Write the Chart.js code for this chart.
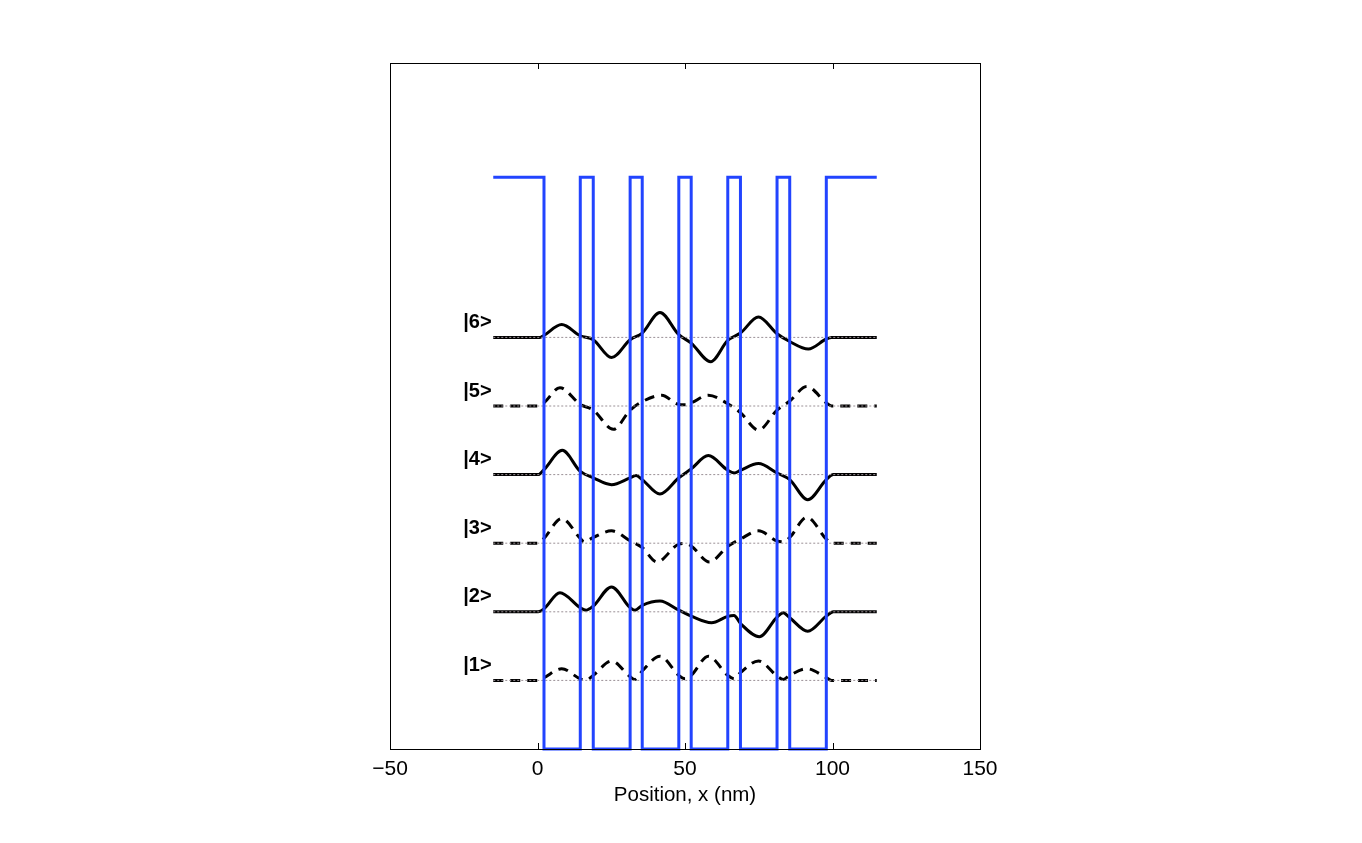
<!DOCTYPE html>
<html>
<head>
<meta charset="utf-8">
<script src="https://cdn.jsdelivr.net/npm/chart.js@4.4.1/dist/chart.umd.min.js"></script>
<style>
  html, body { margin: 0; padding: 0; background: #fff; }
  #wrap { width: 1362px; height: 843px; }
</style>
</head>
<body>
<div id="wrap"><canvas id="wells"></canvas></div>
<script>
// conduction band profile (nm, meV)
var potX = [-15, 2.2, 14.5, 18.9, 31.4, 35.5, 47.9, 52.1, 64.5, 68.8, 81.2, 85.5, 97.9, 115];
var potV = [250, 0, 250, 0, 250, 0, 250, 0, 250, 0, 250, 0, 250, 250];

// energy levels (meV) and their labels
var levels = [30, 60, 90, 120, 150, 180];
var levelNames = ['|1>', '|2>', '|3>', '|4>', '|5>', '|6>'];
var levelX = [-15, 115];

// wavefunctions, [x nm, offset from level]
var psi1 = [[-15,0],[0.2,0],[2.2,1.2],[8.2,5.1],[14.5,0.7],[16.5,0.1],[18.9,2.2],[25.1,8.5],[31.4,1.6],[33.0,0.4],[35.5,4.1],[41.5,10.6],[47.9,2.2],[50.0,0.7],[52.1,2.2],[57.9,10.6],[64.5,2.2],[66.7,0.7],[68.8,3.4],[74.9,8.5],[81.2,1.9],[83.3,0.4],[85.5,2.2],[91.3,5.1],[97.9,1.2],[99.7,0],[115,0]];
var psi2 = [[-15,0],[0.2,0],[2.2,1.3],[7.6,8.3],[14.5,1.8],[16.5,0.7],[18.9,2.5],[25.1,10.9],[31.4,1.8],[33.0,0.7],[35.5,2.8],[41.5,4.7],[47.9,0.7],[52.1,-1.9],[59.0,-4.8],[64.5,-2.0],[66.6,-1.6],[68.8,-5.1],[75.2,-10.9],[81.2,-2.3],[83.3,-0.4],[85.5,-2.6],[91.6,-8.5],[97.9,-1.9],[100.3,0],[115,0]];
var psi3 = [[-15,0],[0.2,0],[2.2,2.1],[8.2,10.8],[14.5,2.1],[15.8,0.6],[18.9,2.5],[25.1,5.4],[31.4,1.0],[35.5,-1.9],[40.5,-8.2],[47.9,-0.4],[50.0,-0.1],[52.1,-1.2],[58.3,-8.2],[64.5,-1.4],[68.8,1.8],[74.9,5.4],[81.2,1.0],[83.3,0.6],[85.5,2.5],[91.3,11.3],[97.9,1.8],[99.7,0],[115,0]];
var psi4 = [[-15,0],[0.2,0],[2.2,2.2],[8.4,10.6],[14.5,1.4],[18.9,-1.4],[25.1,-4.4],[31.4,-1.4],[33.4,-0.4],[35.5,-2.2],[41.5,-8.5],[47.9,-1.4],[52.1,2.5],[57.9,8.3],[64.5,1.9],[66.7,0.7],[68.8,1.9],[74.9,4.8],[81.2,0.7],[85.5,-2.2],[91.6,-11.0],[97.9,-2.2],[100.3,0],[115,0]];
var psi5 = [[-15,0],[0.2,0],[2.2,1.4],[7.6,8.0],[14.5,0.7],[18.9,-1.8],[25.7,-10.2],[31.4,-1.8],[35.5,1.9],[42.1,4.7],[47.9,0.7],[50.0,0.6],[52.1,1.4],[57.9,4.7],[64.5,1.0],[68.8,-2.9],[74.9,-10.5],[81.2,-1.8],[85.5,2.2],[91.3,8.5],[97.9,1.4],[99.7,0],[115,0]];
var psi6 = [[-15,0],[0.8,0],[2.0,0.7],[8.2,5.6],[14.5,0.7],[18.9,-1.0],[25.1,-8.8],[31.4,-1.0],[35.5,1.9],[41.5,10.9],[47.9,1.2],[52.1,-2.5],[58.7,-10.6],[64.5,-1.3],[68.8,1.9],[74.9,8.9],[81.2,1.6],[85.5,-1.8],[91.8,-5.1],[97.9,-0.7],[99.7,0],[115,0]];

var xTicks = [-50, 0, 50, 100, 150];

var states = [psi1, psi2, psi3, psi4, psi5, psi6];
var datasets = [];

datasets.push({
  data: potX.map(function (x, i) { return {x: x, y: potV[i]}; }),
  borderColor: '#2244ff',
  borderWidth: 3,
  stepped: true,
  clip: false,
  order: 0
});

levels.forEach(function (E) {
  datasets.push({
    data: levelX.map(function (x) { return {x: x, y: E}; }),
    borderColor: '#9a9096',
    borderWidth: 1,
    borderDash: [2, 2],
    order: 1
  });
});

states.forEach(function (psi, n) {
  datasets.push({
    data: psi.map(function (p) { return {x: p[0], y: levels[n] + p[1]}; }),
    borderColor: '#000',
    borderWidth: 3,
    borderDash: n % 2 === 0 ? [10, 7] : [],
    cubicInterpolationMode: 'monotone',
    order: 2
  });
});

// box with inward ticks, like the original figure
var frame = {
  id: 'frame',
  afterDraw: function (chart) {
    var ctx = chart.ctx, a = chart.chartArea, sx = chart.scales.x;
    ctx.save();
    ctx.strokeStyle = '#000';
    ctx.lineWidth = 1;
    ctx.strokeRect(a.left + 0.5, a.top + 0.5, a.right - a.left, a.bottom - a.top);
    ctx.beginPath();
    xTicks.forEach(function (v) {
      var px = Math.round(sx.getPixelForValue(v)) + 0.5;
      ctx.moveTo(px, a.bottom); ctx.lineTo(px, a.bottom - 6);
      ctx.moveTo(px, a.top); ctx.lineTo(px, a.top + 6);
    });
    ctx.stroke();
    ctx.restore();
  }
};

var levelLabels = {
  id: 'levelLabels',
  afterDatasetsDraw: function (chart) {
    var ctx = chart.ctx, sx = chart.scales.x, sy = chart.scales.y;
    ctx.save();
    ctx.fillStyle = '#000';
    ctx.font = 'bold 20px "Liberation Sans", Arial, sans-serif';
    ctx.textAlign = 'left';
    ctx.textBaseline = 'middle';
    levels.forEach(function (E, i) {
      ctx.fillText(levelNames[i], sx.getPixelForValue(-25.2), sy.getPixelForValue(E) - 15);
    });
    ctx.restore();
  }
};

new Chart(document.getElementById('wells'), {
  type: 'line',
  data: { datasets: datasets },
  options: {
    responsive: true,
    maintainAspectRatio: false,
    animation: false,
    elements: { point: { radius: 0 } },
    layout: { padding: { left: 390, right: 382, top: 63, bottom: 0 } },
    plugins: {
      legend: { display: false },
      tooltip: { enabled: false }
    },
    scales: {
      x: {
        type: 'linear',
        min: -50,
        max: 150,
        afterBuildTicks: function (axis) {
          axis.ticks = xTicks.map(function (v) { return {value: v}; });
        },
        afterFit: function (axis) { axis.height = 94; },
        grid: { display: false, drawTicks: false },
        border: { display: false },
        ticks: {
          color: '#000',
          padding: 8,
          font: { family: '"Liberation Sans", Arial, sans-serif', size: 21 },
          callback: function (v) { return String(v).replace('-', '\u2212'); }
        },
        title: {
          display: true,
          text: 'Position, x (nm)',
          color: '#000',
          font: { family: '"Liberation Sans", Arial, sans-serif', size: 20.5 },
          padding: { top: 0, bottom: 35 }
        }
      },
      y: {
        type: 'linear',
        display: false,
        min: 0,
        max: 300
      }
    }
  },
  plugins: [frame, levelLabels]
});
</script>
</body>
</html>
